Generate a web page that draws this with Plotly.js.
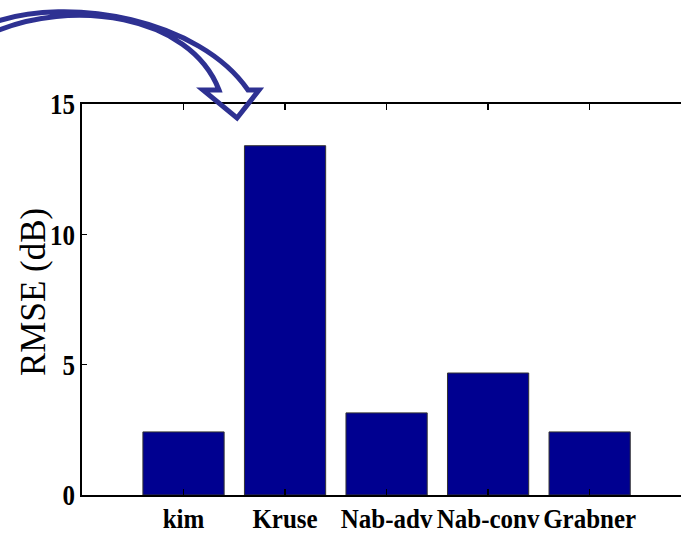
<!DOCTYPE html>
<html>
<head>
<meta charset="utf-8">
<script src="https://cdn.plot.ly/plotly-3.0.1.min.js"></script>
<style>
html,body{margin:0;padding:0;background:#fff;overflow:hidden;}
#chart{width:681px;height:533px;}
</style>
</head>
<body>
<div id="chart"></div>
<script>
// Data
var methods = ["kim", "Kruse", "Nab-adv", "Nab-conv", "Grabner"];
var rmseValues = [2.42, 13.40, 3.15, 4.68, 2.42];
var yTickValues = [0, 5, 10, 15];
var yTickLabels = ["0", "5", "10", "15"];
var yTitle = "RMSE (dB)";

// Layout geometry (pixels)
var W = 681, H = 533;
var M = {l: 82, r: 0, t: 104, b: 38};
var plotW = W - M.l - M.r, plotH = H - M.t - M.b;
function pxX(x) { return (x - M.l) / plotW; }
function pxY(y) { return (H - M.b - y) / plotH; }
function px(x, y) { return pxX(x).toFixed(4) + "," + pxY(y).toFixed(4); }

// Curved hollow arrow (decoration) in pixel coordinates
var arrowPath =
  "M " + px(-8, 23) +
  " C " + px(70, -5) + " " + px(200, 20) + " " + px(248, 90) +
  " L " + px(259, 90) +
  " L " + px(237, 118) +
  " L " + px(203, 90) +
  " L " + px(219, 90) +
  " C " + px(190, 14) + " " + px(70, -2) + " " + px(-8, 33);

var serif = "Liberation Serif, Times New Roman, serif";

var trace = {
  type: "bar",
  x: methods,
  y: rmseValues,
  width: 0.8,
  marker: {color: "#000090", line: {color: "#333333", width: 1}},
  hoverinfo: "x+y"
};

var layout = {
  width: W, height: H,
  margin: M,
  paper_bgcolor: "#ffffff",
  plot_bgcolor: "#ffffff",
  showlegend: false,
  xaxis: {
    type: "category",
    range: [-1, 4.9],
    showline: true, linecolor: "#000", linewidth: 2,
    mirror: "ticks",
    ticks: "inside", ticklen: 6, tickwidth: 1.5, tickcolor: "#000",
    showgrid: false, zeroline: false,
    tickfont: {family: serif, size: 25, color: "#000", weight: "bold"},
    ticklabelstandoff: 0
  },
  yaxis: {
    range: [0, 15],
    tickvals: yTickValues,
    ticktext: yTickLabels,
    showline: true, linecolor: "#000", linewidth: 2,
    mirror: false,
    ticks: "inside", ticklen: 5, tickwidth: 1.5, tickcolor: "#000",
    showgrid: false, zeroline: false,
    tickfont: {family: serif, size: 25, color: "#000", weight: "bold"},
    ticklabelstandoff: 0
  },
  annotations: [{
    text: yTitle,
    xref: "paper", yref: "paper",
    x: pxX(33), y: pxY(292),
    xanchor: "center", yanchor: "middle",
    textangle: -90,
    showarrow: false,
    font: {family: serif, size: 35, color: "#000"}
  }],
  shapes: [{
    type: "path",
    xref: "paper", yref: "paper",
    path: arrowPath,
    line: {color: "#2E3192", width: 5},
    fillcolor: "rgba(0,0,0,0)"
  }]
};

// Stretch tick label text vertically (the reference font looks tall/condensed)
function stretchText(selector, s) {
  var nodes = document.querySelectorAll(selector);
  nodes.forEach(function (t) {
    try {
      var b = t.getBBox();
      var cx = b.x + b.width / 2, cy = b.y + b.height / 2;
      var tr = t.getAttribute("transform") || "";
      t.setAttribute("transform", tr + " translate(" + cx + "," + cy + ") scale(1," + s + ") translate(" + (-cx) + "," + (-cy) + ")");
    } catch (e) {}
  });
}

Plotly.newPlot("chart", [trace], layout, {displayModeBar: false, staticPlot: true}).then(function () {
  stretchText("#chart .xtick text", 1.1);
  stretchText("#chart .ytick text", 1.2);
});
</script>
</body>
</html>
